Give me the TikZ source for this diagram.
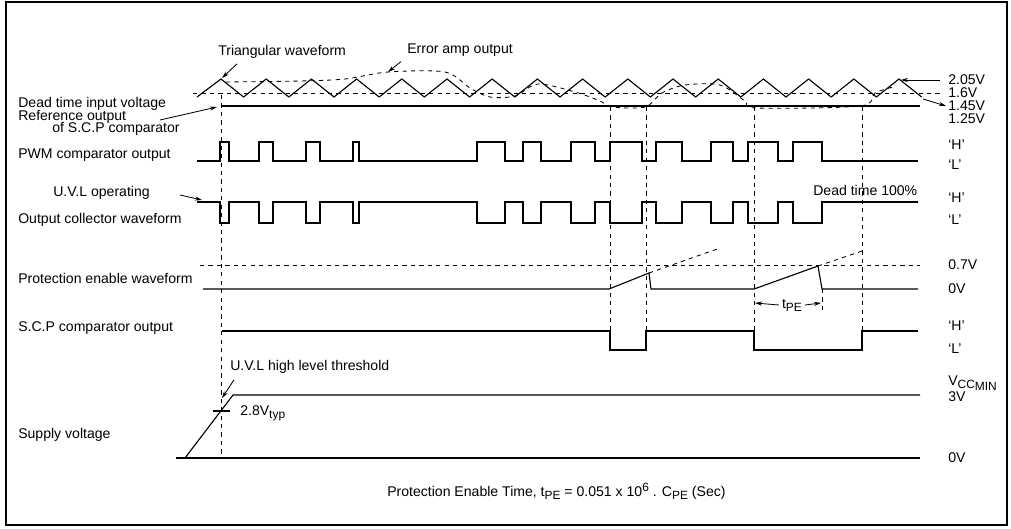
\documentclass[tikz,border=0pt]{standalone}
\usepackage{fontspec}
\setmainfont{Liberation Sans}
\usetikzlibrary{arrows.meta}

\newcommand\lowtxt[1]{\raisebox{-0.4ex}{\fontsize{8.5}{10}\selectfont #1}}
\newcommand\hightxt[1]{\raisebox{0.7ex}{\fontsize{8.5}{10}\selectfont #1}}

\tikzset{
  sig/.style={line width=0.8pt},
  guide/.style={dash pattern=on 3pt off 3pt, line width=0.6pt},
  lbl/.style={anchor=west, inner sep=0pt, font=\fontsize{10}{12}\selectfont},
  arr/.style={-{Stealth[length=5pt,width=3pt]}, line width=0.6pt}
}

\begin{document}
\begin{tikzpicture}[x=0.025cm, y=-0.025cm]
\useasboundingbox (0,0) rectangle (1011,528);
\draw[line width=1pt] (6,2) rectangle (1007,525); % frame

% left hand labels
\node[lbl] (tri) at (218,52) {Triangular waveform};
\node[lbl] (erramp) at (407,50) {Error amp output};
\node[lbl] (dtin) at (18,104) {Dead time input voltage};
\node[lbl] (refout) at (18,117) {Reference output};
\node[lbl] (refscp) at (52,129) {of S.C.P comparator};
\node[lbl] (pwm) at (18,155) {PWM comparator output};
\node[lbl] (uvlop) at (53,193) {U.V.L operating};
\node[lbl] (outcol) at (18,220) {Output collector waveform};
\node[lbl] (protwf) at (18,278) {Protection enable waveform};
\node[lbl] (scpout) at (18,328) {S.C.P comparator output};
\node[lbl] (uvlth) at (230,367) {U.V.L high level threshold};
\node[lbl] (supply) at (18,435) {Supply voltage};
\node[lbl] (formula) at (387,491) {Protection Enable Time, t\lowtxt{PE} = 0.051 x 10\hightxt{6} . C\lowtxt{PE} (Sec)};

% right hand levels
\node[lbl] (v205) at (948,80) {2.05V};
\node[lbl] (v16) at (948,93) {1.6V};
\node[lbl] (v145) at (948,106) {1.45V};
\node[lbl] (v125) at (948,119) {1.25V};
\node[lbl] (pwmH) at (948,145) {`H'};
\node[lbl] (pwmL) at (948,165) {`L'};
\node[lbl] (ocH) at (948,198) {`H'};
\node[lbl] (ocL) at (948,220) {`L'};
\node[lbl] (v07) at (948,265) {0.7V};
\node[lbl] (v0a) at (948,289) {0V};
\node[lbl] (scpH) at (948,326) {`H'};
\node[lbl] (scpL) at (948,349) {`L'};
\node[lbl] (vccmin) at (948,383) {V\lowtxt{CC\lowtxt{MIN}}};
\node[lbl] (v3) at (948,397) {3V};
\node[lbl] (v0b) at (948,458) {0V};
\node[lbl] (dt100) at (813,190) {Dead time 100\%};
\node[lbl] (typ) at (240,413) {2.8V\lowtxt{typ}};
\node[lbl, inner sep=2pt, anchor=center] (tpe) at (792,305) {t\lowtxt{PE}};

% points the arrows point at
\coordinate (pk) at (222,78);
\coordinate (ea) at (388,72);
\coordinate (reftail) at (160,120);
\coordinate (refhead) at (217,107);
\coordinate (uvlhead) at (202,200);
\coordinate (thhead) at (222,398);
\coordinate (pk16) at (903,80);
\coordinate (tri16) at (923,99);
\coordinate (tpl) at (755,303);
\coordinate (tpr) at (821,303);

% triangular wave and dc levels
\draw[sig] (197,97) \foreach \k in {0,...,15}{ -- ({221+45.2*\k},79) -- ({243.6+45.2*\k},97)};
\draw[sig] (221,106) -- (920,106);
\draw[guide] (193,93) -- ([shift={(-6,0)}]v16.west);
\draw[guide] plot[smooth, tension=0.5] coordinates {(226,82) (300,81) (345,79) (388,72) (445,72)
  (470,88) (490,97) (515,96) (538,84) (575,92) (600,101) (612,107) (645,107) (662,93) (685,85)
  (720,85) (745,101) (756,108) (860,106) (875,93) (893,87)};

% dead time guides
\draw[guide] (221,95) -- (221,458);
\foreach \x in {610,646,754,862}
  \draw[guide] (\x,107) -- (\x,331);

% PWM comparator output
\draw[sig] (197,161) \foreach \a/\b in {220/229,259/273,306/320,353/359,477/505,523/541,
  571/595,610/642,656/682,711/733,748/778,793/822}{ -- (\a,161) -- (\a,142) -- (\b,142) -- (\b,161)} -- (918,161);
% output collector
\draw[sig] (197,202) \foreach \a/\b in {220/229,259/273,306/320,353/359,477/505,523/541,
  571/595,610/642,656/682,711/733,748/778,793/822}{ -- (\a,202) -- (\a,223) -- (\b,223) -- (\b,202)} -- (918,202);

% protection enable
\draw[guide] (200,265) -- (920,265);
\draw[sig] (203,289) -- (609,289) -- (649,273) -- (651,289) -- (754,289) -- (818,266) -- (822,289) -- (918,289);
\draw[guide] (649,273) -- (720,248);
\draw[guide] (818,266) -- (862,251);
\draw[guide] (822,289) -- (822,313);

% S.C.P comparator output
\draw[sig] (222,331) -- (610,331) -- (610,350) -- (646,350) -- (646,331) -- (754,331)
  -- (754,350) -- (862,350) -- (862,331) -- (918,331);

% supply voltage
\draw[sig] (185,458) -- (233,395) -- (920,395);
\draw[sig] (176,458) -- (920,458);
\draw[sig] (213,411) -- (230,411);

% arrows
\draw[arr] ([shift={(19,5)}]tri.south west) -- (pk);
\draw[arr] ([shift={(-6,5)}]erramp.south west) -- (ea);
\draw[arr] (reftail) -- (refhead);
\draw[arr] ([shift={(30,2)}]uvlop.east) -- (uvlhead);
\draw[arr] ([shift={(4,6)}]uvlth.south west) -- (thhead);
\draw[guide] ([shift={(-8,0)}]v205.west) -- (pk16);
\draw[arr] ([shift={(-8,0)}]v205.west) -- ([shift={(-2,0)}]pk16);
\draw[arr] (tri16) -- ([shift={(-2,0)}]v145.west);
\draw[arr] (tpe.west) -- (tpl);
\draw[arr] (tpe.east) -- (tpr);
\end{tikzpicture}
\end{document}
